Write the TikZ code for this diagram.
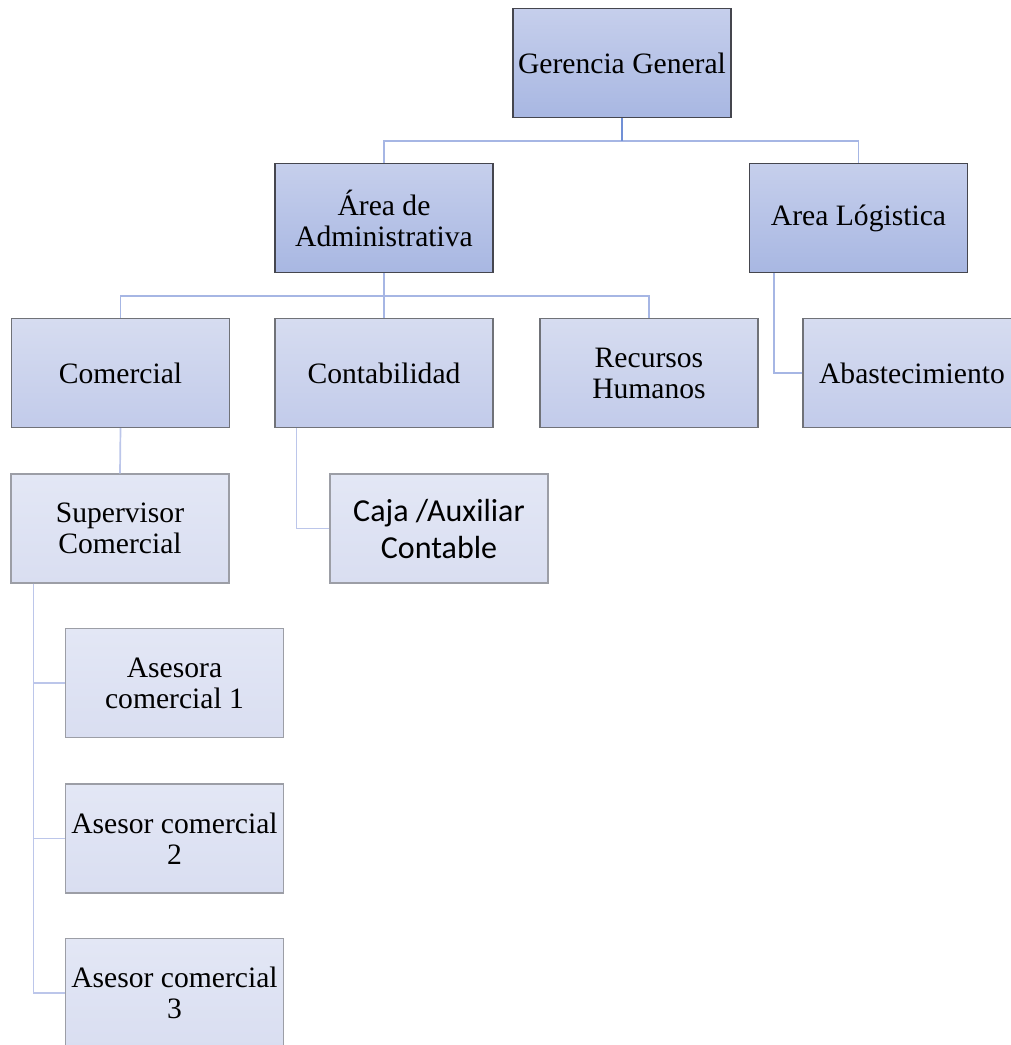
\documentclass[tikz,border=0pt]{standalone}
\usepackage{fontspec}
\setmainfont{Liberation Serif}
\newfontfamily\calib{Carlito}
\definecolor{topA}{HTML}{C6CFEC}
\definecolor{botA}{HTML}{A8B7E2}
\definecolor{topB}{HTML}{D6DCF0}
\definecolor{botB}{HTML}{C2CBEA}
\definecolor{topC}{HTML}{E3E7F5}
\definecolor{botC}{HTML}{D9DEF1}
\definecolor{edgeA}{HTML}{45464E}
\definecolor{edgeB}{HTML}{707278}
\definecolor{edgeC}{HTML}{9C9EA6}
\definecolor{linkA}{HTML}{A6B6E4}
\definecolor{linkD}{HTML}{7190D6}
\definecolor{linkB}{HTML}{BCC6EA}
\begin{document}
\begin{tikzpicture}[x=1pt,y=-1pt,
  box/.style={rectangle, minimum width=218pt, minimum height=109pt, inner sep=1pt,
    align=center, font=\fontsize{29.6}{31}\selectfont, line width=1.2pt},
  lvA/.style={box, draw=edgeA, top color=topA, bottom color=botA},
  lvB/.style={box, draw=edgeB, top color=topB, bottom color=botB},
  lvC/.style={box, draw=edgeC, top color=topC, bottom color=botC},
  link/.style={draw=linkA, line width=1.9pt},
  sublink/.style={draw=linkB, line width=1.7pt}]
\useasboundingbox (0,0) rectangle (1011,1045);

% boxes
\node[lvA] (gg)   at (622,63)    {Gerencia General};
\node[lvA] (adm)  at (384,218)   {Área de\\Administrativa};
\node[lvA] (log)  at (858.5,218) {Area Lógistica};
\node[lvB] (com)  at (120.5,373) {Comercial};
\node[lvB] (cont) at (384,373)   {Contabilidad};
\node[lvB] (rrhh) at (649,373)   {Recursos\\Humanos};
\node[lvB] (abas) at (912,373)   {Abastecimiento};
\node[lvC] (sup)  at (120,528.5) {Supervisor\\Comercial};
\node[lvC, font=\calib\fontsize{32}{37}\selectfont] (caja) at (439,528.5) {Caja /Auxiliar\\Contable};
\node[lvC] (a1)   at (174.5,683)   {Asesora\\comercial 1};
\node[lvC] (a2)   at (174.5,838.5) {Asesor comercial\\2};
\node[lvC] (a3)   at (174.5,993)   {Asesor comercial\\3};

% buses
\coordinate (bus1) at (622,141);
\coordinate (bus2) at (384,296);

% connectors
\draw[link] (adm.north) |- (bus1) -| (log.north);
\draw[draw=linkD, line width=1.9pt] (gg.south) -- (bus1);
\draw[link] (adm.south) -- (cont.north);
\draw[link] (com.north) |- (bus2) -| (rrhh.north);
\draw[link] ([xshift=25pt]log.south west) |- (abas.west);
\draw[sublink] (com.south) -- (sup.north);
\draw[sublink] ([xshift=22pt]cont.south west) |- (caja.west);
\draw[sublink] ([xshift=23pt]sup.south west) |- (a1.west);
\draw[sublink] ([xshift=23pt]sup.south west) |- (a2.west);
\draw[sublink] ([xshift=23pt]sup.south west) |- (a3.west);
\end{tikzpicture}
\end{document}
